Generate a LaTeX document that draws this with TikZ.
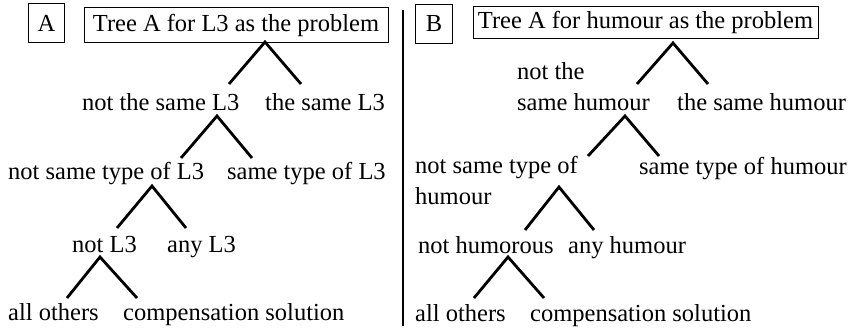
\documentclass[tikz,border=0pt]{standalone}
\usepackage{fontspec}
\setmainfont{Liberation Serif}
\begin{document}
\begin{tikzpicture}[x=1pt,y=-1pt,
  lbl/.style={anchor=base west,inner sep=0pt,font=\fontsize{24.5}{30.5}\selectfont},
  boxed/.style={draw,line width=0.9pt,inner sep=0pt,font=\fontsize{24.5}{30.5}\selectfont},
  branch/.style={line width=2.8pt},
  divider/.style={line width=1.8pt}]
\useasboundingbox (0,0) rectangle (856,332);
% Panel A
\node[boxed,minimum width=36pt,minimum height=39pt] (boxA) at (46.5,23) {A};
\node[boxed,minimum width=304pt,minimum height=35pt] (titleA) at (236,25) {Tree A for L3 as the problem};
\node[lbl] (a1l) at (82,110) {not the same L3};
\node[lbl] (a1r) at (265,110) {the same L3};
\node[lbl] (a2l) at (8,179) {not same type of L3};
\node[lbl] (a2r) at (227,179) {same type of L3};
\node[lbl] (a3l) at (72,252) {not L3};
\node[lbl] (a3r) at (167,252) {any L3};
\node[lbl] (a4l) at (8,320) {all others};
\node[lbl] (a4r) at (123,320) {compensation solution};
\coordinate (pA1) at (265,42); \coordinate (lA1) at (229,84); \coordinate (rA1) at (301,84);
\coordinate (pA2) at (217,116); \coordinate (lA2) at (181,158); \coordinate (rA2) at (252,158);
\coordinate (pA3) at (152,186); \coordinate (lA3) at (117,228); \coordinate (rA3) at (186,228);
\coordinate (pA4) at (100,257); \coordinate (lA4) at (67,298); \coordinate (rA4) at (137,298);
\draw[branch] (lA1) -- (pA1) -- (rA1);
\draw[branch] (lA2) -- (pA2) -- (rA2);
\draw[branch] (lA3) -- (pA3) -- (rA3);
\draw[branch] (lA4) -- (pA4) -- (rA4);
% divider
\coordinate (dtop) at (403,10); \coordinate (dbot) at (403,326);
\draw[divider] (dtop) -- (dbot);
% Panel B
\node[boxed,minimum width=37pt,minimum height=39pt] (boxB) at (434,23.5) {B};
\node[boxed,minimum width=345pt,minimum height=32pt] (titleB) at (645.5,22.5) {Tree A for humour as the problem};
\node[lbl,align=left] (b1l) at (517,110) {not the\\same humour};
\node[lbl] (b1r) at (677,110) {the same humour};
\node[lbl,align=left] (b2l) at (415,204) {not same type of\\humour};
\node[lbl] (b2r) at (639,174) {same type of humour};
\node[lbl] (b3l) at (418,253) {not humorous};
\node[lbl] (b3r) at (568,253) {any humour};
\node[lbl] (b4l) at (415,321) {all others};
\node[lbl] (b4r) at (530,321) {compensation solution};
\coordinate (pB1) at (673,43); \coordinate (lB1) at (637,84); \coordinate (rB1) at (708,84);
\coordinate (pB2) at (625,116); \coordinate (lB2) at (588,156); \coordinate (rB2) at (659,156);
\coordinate (pB3) at (559,187); \coordinate (lB3) at (525,230); \coordinate (rB3) at (594,230);
\coordinate (pB4) at (508,257); \coordinate (lB4) at (474,298); \coordinate (rB4) at (544,298);
\draw[branch] (lB1) -- (pB1) -- (rB1);
\draw[branch] (lB2) -- (pB2) -- (rB2);
\draw[branch] (lB3) -- (pB3) -- (rB3);
\draw[branch] (lB4) -- (pB4) -- (rB4);
\end{tikzpicture}
\end{document}
